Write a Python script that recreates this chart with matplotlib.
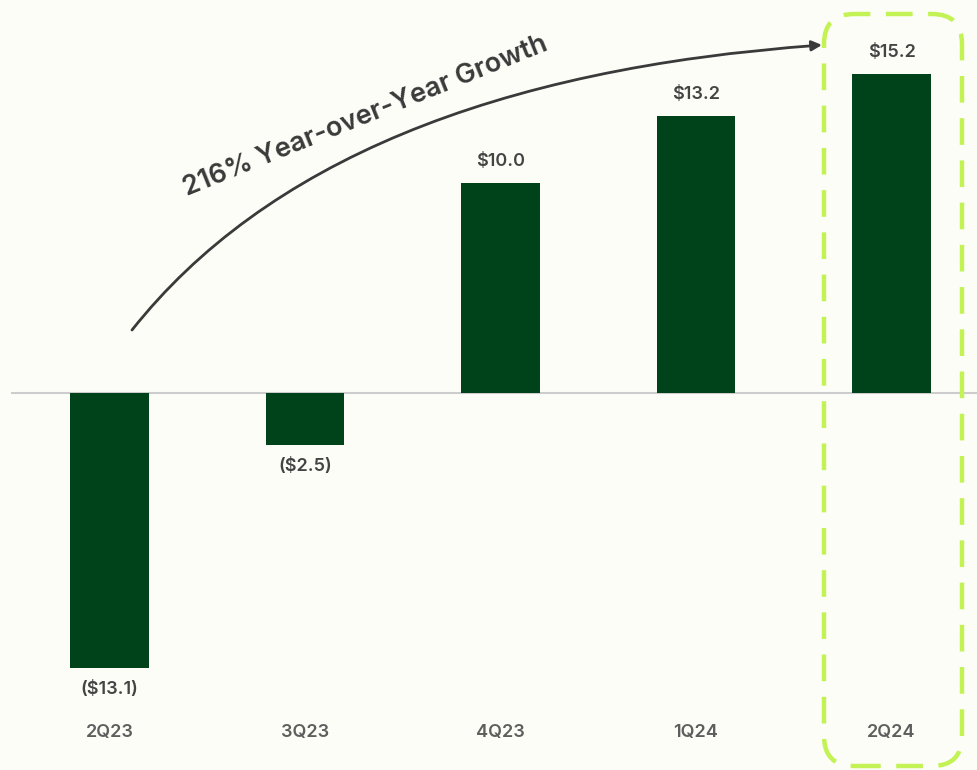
import matplotlib
matplotlib.use("Agg")
import matplotlib.pyplot as plt
from matplotlib.patches import FancyBboxPatch, FancyArrowPatch
from matplotlib.path import Path
from matplotlib.transforms import IdentityTransform

quarters = ["2Q23", "3Q23", "4Q23", "1Q24", "2Q24"]
values = [-13.1, -2.5, 10.0, 13.2, 15.2]
value_labels = ["($13.1)", "($2.5)", "$10.0", "$13.2", "$15.2"]
growth_label = "216% Year-over-Year Growth"

BG = "#FDFDF8"
BAR = "#00431B"
TXT = "#444444"
CAT = "#5E5E5E"
LIME = "#C2F254"

plt.rcParams["font.family"] = ["Inter", "DejaVu Sans"]

W, H = 978, 770
fig = plt.figure(figsize=(W / 100, H / 100), dpi=100, facecolor=BG)
ax = fig.add_axes([0, 0, 1, 1], facecolor=BG)

x = list(range(len(quarters)))
ax.bar(x, values, width=0.40, color=BAR, zorder=2)

ax.set_xlim(-0.560, 4.442)
ax.set_ylim(-17.95, 18.71)
ax.hlines(0, -0.504, 4.442, color="#CCCCCC", lw=1.5, zorder=1)

for xi, v, lab in zip(x, values, value_labels):
    if v >= 0:
        ax.annotate(lab, (xi, v), xytext=(0, 9), textcoords="offset points",
                    ha="center", va="bottom", fontsize=13, fontweight="semibold", color=TXT)
    else:
        ax.annotate(lab, (xi, v), xytext=(0, -9), textcoords="offset points",
                    ha="center", va="top", fontsize=13, fontweight="semibold", color=TXT)

for xi, q in zip(x, quarters):
    ax.text(xi, -16.15, q, ha="center", va="center", fontsize=13,
            fontweight="semibold", color=CAT)

ax.axis("off")


def fp(px, py):
    return (px / W, 1 - py / H)


# growth arrow as a quadratic curve in figure coordinates
verts = [fp(132, 330), fp(330, 80), fp(822, 45)]
path = Path(verts, [Path.MOVETO, Path.CURVE3, Path.CURVE3])
arrow = FancyArrowPatch(path=path, transform=fig.transFigure,
                        arrowstyle="-|>,head_length=6,head_width=3",
                        color="#3A3A3A", lw=2, mutation_scale=1)
fig.add_artist(arrow)

fig.text(*fp(365, 116), growth_label, rotation=22, ha="center", va="center",
         fontsize=19.5, fontweight="semibold", color="#3A3A3A",
         rotation_mode="anchor")

# highlight box around the latest quarter
box = FancyBboxPatch((824, H - 766), 962 - 824, 766 - 14,
                     boxstyle="round,pad=0,rounding_size=30",
                     transform=IdentityTransform(),
                     fill=False, ec=LIME, lw=3.2, linestyle=(0, (6, 3.5)))
fig.add_artist(box)

fig.savefig("out.png", dpi=100, facecolor=BG)
